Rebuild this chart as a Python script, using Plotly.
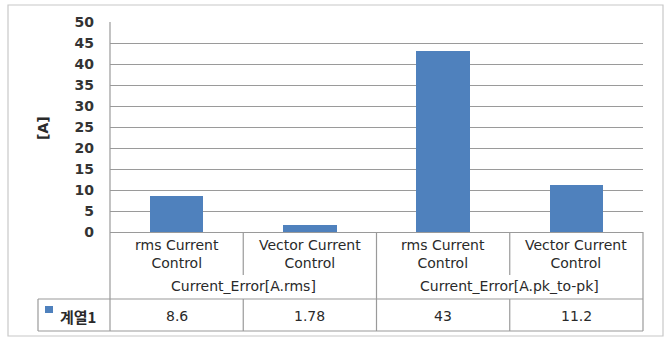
import plotly.graph_objects as go

categories = ["rms Current<br>Control", "Vector Current<br>Control", "rms Current<br>Control", "Vector Current<br>Control"]
groups = ["Current_Error[A.rms]", "Current_Error[A.pk_to-pk]"]
series_name = "계열1"
values = [8.6, 1.78, 43, 11.2]
value_labels = ["8.6", "1.78", "43", "11.2"]
y_ticks = [0, 5, 10, 15, 20, 25, 30, 35, 40, 45, 50]

W, H = 667, 338
L, R, T, B = 110, 24, 22, 106
pw, ph = W - L - R, H - T - B

def py(ypix):
    return (H - B - ypix) / ph

def px(xpix):
    return (xpix - L) / pw

BAR = "#4F81BD"
LINE = "#9a9a9a"
TXT = "#2a2a2a"
FONT = "DejaVu Sans"

xs = list(range(len(values)))
fig = go.Figure(go.Bar(x=xs, y=values, width=0.4, marker=dict(color=BAR, line=dict(width=0)), name=series_name))

shapes = []
shapes.append(dict(type="rect", xref="paper", yref="paper", x0=px(8), x1=px(663), y0=py(336), y1=py(5),
                   line=dict(color="#c8c8c8", width=1.2), layer="below"))
for yy in [299, 331]:
    shapes.append(dict(type="line", xref="paper", yref="paper", x0=px(38), x1=1, y0=py(yy), y1=py(yy),
                       line=dict(color=LINE, width=1.2)))
shapes.append(dict(type="line", xref="paper", yref="paper", x0=px(38), x1=px(38), y0=py(299), y1=py(331),
                   line=dict(color=LINE, width=1.2)))
shapes.append(dict(type="line", xref="paper", yref="paper", x0=0, x1=0, y0=1, y1=py(331),
                   line=dict(color=LINE, width=1.2)))
shapes.append(dict(type="line", xref="paper", yref="paper", x0=1, x1=1, y0=0, y1=py(331),
                   line=dict(color=LINE, width=1.2)))
for i, b in enumerate([0.5, 1.5, 2.5]):
    if i == 1:
        shapes.append(dict(type="line", xref="x", yref="paper", x0=b, x1=b, y0=0, y1=py(331),
                           line=dict(color=LINE, width=1.2)))
    else:
        shapes.append(dict(type="line", xref="x", yref="paper", x0=b, x1=b, y0=0, y1=py(275),
                           line=dict(color=LINE, width=1.2)))
        shapes.append(dict(type="line", xref="x", yref="paper", x0=b, x1=b, y0=py(299), y1=py(331),
                           line=dict(color=LINE, width=1.2)))
shapes.append(dict(type="rect", xref="paper", yref="paper", x0=px(45), x1=px(53), y0=py(313), y1=py(306),
                   fillcolor=BAR, line=dict(width=0)))

ann = []
for i, c in enumerate(categories):
    ann.append(dict(x=i, y=py(254), xref="x", yref="paper", text=c, showarrow=False,
                    font=dict(family=FONT, size=14, color=TXT), xanchor="center", yanchor="middle"))
    ann.append(dict(x=i, y=py(316), xref="x", yref="paper", text=value_labels[i], showarrow=False,
                    font=dict(family=FONT, size=14, color=TXT), xanchor="center", yanchor="middle"))
for g, gx in zip(groups, [0.5, 2.5]):
    ann.append(dict(x=gx, y=py(286), xref="x", yref="paper", text=g, showarrow=False,
                    font=dict(family=FONT, size=14, color=TXT), xanchor="center", yanchor="middle"))
ann.append(dict(x=px(58), y=py(316), xref="paper", yref="paper", text=series_name, showarrow=False,
                xanchor="left", yanchor="middle",
                font=dict(family="Noto Sans CJK KR", size=15, color=TXT, weight="bold")))
ann.append(dict(x=px(43), y=py(128), xref="paper", yref="paper", text="[A]", showarrow=False,
                xanchor="center", yanchor="middle",
                textangle=-90, font=dict(family=FONT, size=14, color=TXT, weight="bold")))

fig.update_layout(
    width=W, height=H, margin=dict(l=L, r=R, t=T, b=B, autoexpand=False),
    paper_bgcolor="white", plot_bgcolor="white", showlegend=False,
    bargap=0, shapes=shapes, annotations=ann,
    xaxis=dict(range=[-0.5, 3.5], showticklabels=False, showgrid=False, zeroline=False,
               showline=True, linecolor=LINE, linewidth=1.2, fixedrange=True),
    yaxis=dict(range=[0, 50], tickvals=y_ticks, showgrid=True, gridcolor=LINE, gridwidth=1.2,
               zeroline=False, showline=False, ticks="", ticklabelstandoff=15,
               tickfont=dict(family=FONT, size=14, color="#333333", weight="bold"), fixedrange=True),
)
fig.write_html("out.html")
